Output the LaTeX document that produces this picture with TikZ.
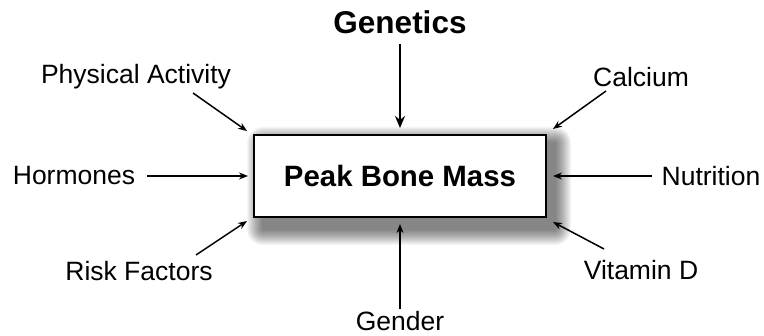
\documentclass[tikz,border=0pt]{standalone}
\usepackage{fontspec}
\setmainfont{Liberation Sans}
\usetikzlibrary{arrows.meta}
\begin{document}
\begin{tikzpicture}[x=1pt,y=-1pt,
  lbl/.style={font=\fontsize{26.5}{28}\selectfont, inner sep=0pt, anchor=center},
  conn/.style={line width=1.5pt, -{Stealth[length=9pt,width=7pt]}},
  thick conn/.style={line width=2.6pt, -{Stealth[length=12pt,width=10pt]}},
  mainbox/.style={draw, line width=1.5pt, fill=white, minimum width=292pt, minimum height=82pt, font=\bfseries\fontsize{29.4}{31}\selectfont, inner sep=0pt}]
\useasboundingbox (0,0) rectangle (764,336);
% soft shadow
\foreach \i in {1,...,16}{
  \fill[black, opacity=0.04, rounded corners=\i pt]
    (254+9-\i,135+8-\i) rectangle (546+9+\i,217+12+\i);
}
\node[mainbox] (pbm) at (400,176) {Peak Bone Mass};
\node[lbl, font=\bfseries\fontsize{31.5}{33}\selectfont] (gen) at (400,22) {Genetics};
\node[lbl] (pa) at (136,77) {Physical Activity};
\node[lbl] (hor) at (74,176) {Hormones};
\node[lbl] (rf) at (139,271) {Risk Factors};
\node[lbl] (cal) at (641,77) {Calcium};
\node[lbl] (nut) at (711,176) {Nutrition};
\node[lbl] (vit) at (641,270) {Vitamin D};
\node[lbl] (gnd) at (400,321) {Gender};
% arrow ends
\coordinate (gs) at (400,44);   \coordinate (gt) at (400,128);
\coordinate (pas) at (193,93);  \coordinate (pat) at (247,131);
\coordinate (hos) at (147,176); \coordinate (hot) at (248,176);
\coordinate (rfs) at (196,255); \coordinate (rft) at (247,221);
\coordinate (cas) at (606,91);  \coordinate (cat) at (553,129);
\coordinate (nus) at (652,176); \coordinate (nut2) at (553,176);
\coordinate (vis) at (604,249); \coordinate (vit2) at (553,222);
\coordinate (gds) at (400,309); \coordinate (gdt) at (400,224);
\draw[thick conn] (gs) -- (gt);
\draw[conn] (pas) -- (pat);
\draw[conn] (hos) -- (hot);
\draw[conn] (rfs) -- (rft);
\draw[conn] (cas) -- (cat);
\draw[conn] (nus) -- (nut2);
\draw[conn] (vis) -- (vit2);
\draw[conn] (gds) -- (gdt);
\end{tikzpicture}
\end{document}
